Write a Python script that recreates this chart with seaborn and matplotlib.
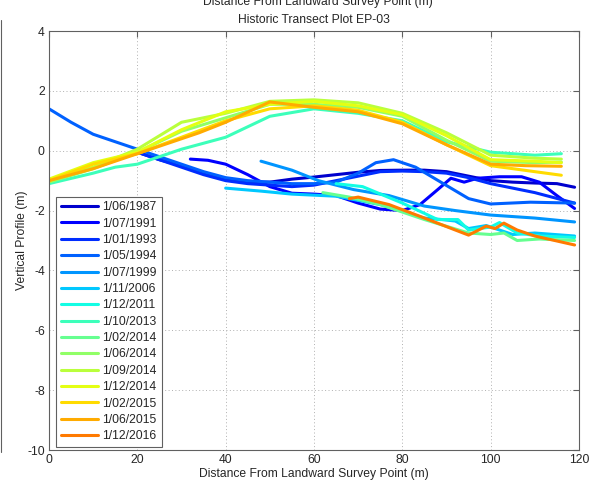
import numpy as np
import pandas as pd
import matplotlib
matplotlib.use("Agg")
import matplotlib.pyplot as plt
from matplotlib.lines import Line2D
import seaborn as sns

sns.set_style("white")
plt.rcParams["font.family"] = ["Liberation Sans", "DejaVu Sans"]
plt.rcParams["axes.unicode_minus"] = False

# Survey dates (legend order)
dates = ["1/06/1987", "1/07/1991", "1/01/1993", "1/05/1994", "1/07/1999",
         "1/11/2006", "1/12/2011", "1/10/2013", "1/02/2014", "1/06/2014",
         "1/09/2014", "1/12/2014", "1/02/2015", "1/06/2015", "1/12/2016"]

# Chainage (m) and elevation (m) of each surveyed profile
x_1987 = [20, 25, 30, 35, 40, 45, 50, 55, 60, 65, 70, 75, 80, 85, 90, 95, 100, 105, 110, 115, 119]
y_1987 = [-0.05, -0.3, -0.5, -0.75, -0.95, -1.05, -1.05, -0.95, -0.88, -0.8, -0.72, -0.66, -0.65, -0.65, -0.7, -0.85, -1.0, -1.05, -1.08, -1.1, -1.22]

x_1991 = [32, 36, 40, 45, 50, 55, 60, 65, 70, 75, 80, 84, 88, 91, 94, 97, 102, 107, 111, 115, 119]
y_1991 = [-0.28, -0.32, -0.45, -0.8, -1.2, -1.42, -1.45, -1.5, -1.75, -1.95, -2.0, -1.8, -1.3, -0.92, -1.05, -0.92, -0.87, -0.87, -1.05, -1.5, -1.93]

x_1993 = [20, 25, 30, 35, 40, 45, 50, 55, 60, 65, 70, 75, 80, 85, 90, 95, 100, 110, 119]
y_1993 = [-0.05, -0.3, -0.55, -0.8, -1.0, -1.1, -1.15, -1.2, -1.15, -1.0, -0.85, -0.7, -0.68, -0.7, -0.75, -0.9, -1.1, -1.4, -1.75]

x_1994 = [0, 5, 10, 15, 20, 25, 30, 35, 40, 45, 50, 55, 60, 65, 70, 74, 78, 83, 87, 91, 95, 100, 109, 119]
y_1994 = [1.4, 0.95, 0.55, 0.3, 0.05, -0.2, -0.45, -0.7, -0.9, -1.0, -1.05, -1.1, -1.1, -1.05, -0.75, -0.4, -0.3, -0.55, -0.9, -1.25, -1.6, -1.78, -1.72, -1.75]

x_1999 = [48, 55, 61, 69, 77, 85, 92, 100, 110, 119]
y_1999 = [-0.35, -0.65, -1.0, -1.3, -1.5, -1.85, -2.0, -2.15, -2.25, -2.38]

x_2006 = [40, 48, 55, 65, 75, 85, 89, 92, 95, 99, 105, 110, 119]
y_2006 = [-1.25, -1.35, -1.45, -1.52, -1.8, -2.25, -2.3, -2.35, -2.6, -2.5, -2.8, -2.75, -2.85]

x_2011 = [65, 71, 80, 88, 92.6, 95, 100, 102, 106, 111, 119]
y_2011 = [-1.1, -1.2, -1.75, -2.3, -2.3, -2.65, -2.55, -2.4, -2.75, -2.85, -2.9]

x_2013 = [0, 10, 15, 20, 30, 40, 50, 60, 70, 80, 90, 100, 110, 116]
y_2013 = [-1.1, -0.75, -0.55, -0.45, 0.05, 0.45, 1.15, 1.4, 1.25, 1.0, 0.3, -0.05, -0.15, -0.1]

x_2014a = [62, 68, 75, 85, 95, 100, 103, 106, 111, 119]
y_2014a = [-1.4, -1.55, -1.8, -2.3, -2.75, -2.8, -2.75, -3.0, -2.95, -3.0]

x_2014b = [0, 10, 20, 30, 40, 50, 60, 70, 80, 90, 100, 110, 116]
y_2014b = [-1.05, -0.6, -0.05, 0.65, 1.1, 1.55, 1.55, 1.45, 1.15, 0.35, -0.35, -0.4, -0.38]

x_2014c = [0, 10, 20, 30, 40, 50, 60, 70, 80, 90, 100, 110, 116]
y_2014c = [-1.0, -0.55, 0.05, 0.95, 1.25, 1.65, 1.7, 1.6, 1.25, 0.6, -0.15, -0.25, -0.28]

x_2014d = [0, 10, 20, 30, 40, 50, 60, 70, 80, 90, 100, 110, 116]
y_2014d = [-0.95, -0.4, -0.05, 0.7, 1.3, 1.55, 1.65, 1.5, 1.2, 0.5, -0.3, -0.35, -0.4]

x_2015a = [0, 10, 20, 30, 40, 50, 60, 70, 80, 90, 100, 110, 116]
y_2015a = [-1.0, -0.45, -0.1, 0.45, 1.0, 1.4, 1.5, 1.35, 0.95, 0.2, -0.5, -0.7, -0.82]

x_2015b = [0, 10, 20, 30, 34, 40, 50, 60, 70, 80, 90, 100, 108, 116]
y_2015b = [-1.0, -0.6, -0.1, 0.4, 0.6, 0.95, 1.63, 1.45, 1.3, 0.9, 0.2, -0.45, -0.5, -0.52]

x_2016 = [68, 70, 77, 85, 92, 95, 99, 101, 103, 106, 110, 119]
y_2016 = [-1.6, -1.55, -1.8, -2.25, -2.65, -2.82, -2.52, -2.6, -2.42, -2.65, -2.85, -3.15]

profiles_x = [x_1987, x_1991, x_1993, x_1994, x_1999, x_2006, x_2011, x_2013,
              x_2014a, x_2014b, x_2014c, x_2014d, x_2015a, x_2015b, x_2016]
profiles_y = [y_1987, y_1991, y_1993, y_1994, y_1999, y_2006, y_2011, y_2013,
              y_2014a, y_2014b, y_2014c, y_2014d, y_2015a, y_2015b, y_2016]

x_ticks = [0, 20, 40, 60, 80, 100, 120]
y_ticks = [-10, -8, -6, -4, -2, 0, 2, 4]

frames = []
for d, xs, ys in zip(dates, profiles_x, profiles_y):
    frames.append(pd.DataFrame({"Distance": xs, "Elevation": ys, "Survey": d}))
df = pd.concat(frames, ignore_index=True)

cmap = plt.get_cmap("jet")
palette = dict(zip(dates, [cmap(v) for v in np.linspace(0.07, 0.78, len(dates))]))

fig = plt.figure(figsize=(5.89, 4.86), dpi=100)
ax = fig.add_axes([49 / 589, 36 / 486, 530 / 589, 419 / 486])

sns.lineplot(data=df, x="Distance", y="Elevation", hue="Survey", hue_order=dates,
             palette=palette, estimator=None, sort=False, linewidth=2.2, ax=ax)

ax.set_xlim(0, 120)
ax.set_ylim(-10, 4)
ax.set_xticks(x_ticks)
ax.set_yticks(y_ticks)
ax.grid(True, color="#b0b0b0", linestyle=(0, (1, 2.5)), linewidth=0.7)
for s in ax.spines.values():
    s.set_color("#606060")
    s.set_linewidth(0.8)
    s.set_visible(True)
ax.tick_params(direction="in", length=4, width=0.8, color="#606060",
               top=True, right=True, labelsize=8.7, pad=3)

ax.set_xlabel("Distance From Landward Survey Point (m)", fontsize=8.7, labelpad=1)
ax.set_ylabel("Vertical Profile (m)", fontsize=8.7, labelpad=-0.5)
ax.set_title("Historic Transect Plot EP-03", fontsize=8.7, pad=5.5)

leg = ax.legend(loc="lower left", bbox_to_anchor=(0.013, 0.007), borderaxespad=0,
                fontsize=8.7, handlelength=3.1, handletextpad=0.35, labelspacing=0.36,
                borderpad=0.4, fancybox=False, framealpha=1, edgecolor="#606060")
leg.get_frame().set_linewidth(0.8)
for h in leg.get_lines():
    h.set_linewidth(2.2)

# Neighbouring panel edge and its clipped axis label
fig.add_artist(Line2D([1.2 / 589, 1.2 / 589], [1 - 20 / 486, 1 - 452 / 486],
                      color="#606060", linewidth=0.8, transform=fig.transFigure))
fig.text(318 / 589, 1 - 4.5 / 486, "Distance From Landward Survey Point (m)",
         ha="center", va="baseline", fontsize=8.7)

fig.savefig("out.png", dpi=100)
